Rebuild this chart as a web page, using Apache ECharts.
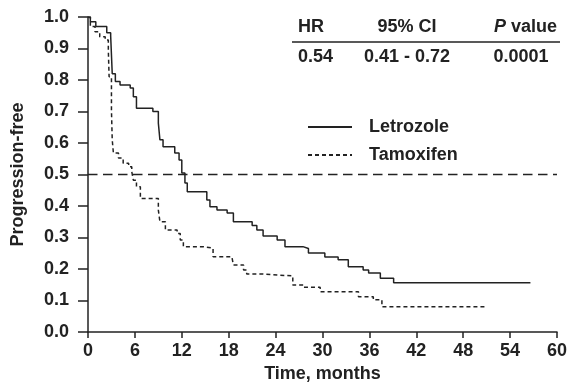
<!DOCTYPE html>
<html>
<head>
<meta charset="utf-8">
<script src="https://cdn.jsdelivr.net/npm/echarts@6/dist/echarts.min.js"></script>
<style>
html, body { margin:0; padding:0; background:#fff; }
#chart { width:573px; height:382px; }
</style>
</head>
<body>
<div id="chart"></div>
<script>
// Kaplan-Meier steps (months, proportion progression-free)
var letTime = [0, 0.3, 1.0, 2.4, 2.9, 3.1, 3.5, 4.1, 5.4, 5.8, 6.2, 8.3, 9.0, 9.2, 9.6, 11.1, 11.65, 12.0, 12.4, 12.7,
    15.2, 15.6, 16.5, 17.8, 18.6, 21.0, 21.6, 22.4, 24.2, 25.2, 27.5, 28.2, 30.3, 32.0, 33.3, 35.2, 35.9, 37.4, 39.1, 56.6];
var letSurv = [1.0, 0.985, 0.97, 0.95, 0.94, 0.82, 0.795, 0.784, 0.775, 0.747, 0.71, 0.70, 0.663, 0.61, 0.588, 0.568, 0.546, 0.505, 0.473, 0.445,
    0.419, 0.398, 0.387, 0.378, 0.35, 0.338, 0.324, 0.305, 0.292, 0.271, 0.265, 0.251, 0.238, 0.229, 0.207, 0.197, 0.187, 0.171, 0.156, 0.156];

var tamTime = [0, 0.3, 0.9, 1.5, 2.2, 2.6, 2.7, 3.0, 3.1, 3.25, 3.9, 4.5, 5.2, 5.6, 5.8, 6.2, 6.7, 9.0, 9.2, 9.9,
    11.4, 11.8, 12.2, 14.8, 16.0, 18.4, 18.6, 19.9, 20.3, 22.4, 26.2, 27.6, 29.7, 34.6, 36.5, 37.6, 51.1];
var tamSurv = [1.0, 0.97, 0.953, 0.937, 0.927, 0.895, 0.81, 0.705, 0.61, 0.568, 0.552, 0.536, 0.525, 0.509, 0.482, 0.461, 0.424, 0.387, 0.35, 0.324,
    0.313, 0.292, 0.271, 0.266, 0.239, 0.234, 0.213, 0.197, 0.184, 0.178, 0.149, 0.142, 0.128, 0.112, 0.102, 0.08, 0.08];

var seriesNames = ['Letrozole', 'Tamoxifen'];
var xTicks = [0, 60, 6];      // min, max, interval
var yTicks = [0, 1, 0.1];
var tableHead = ['HR', '95% CI', 'P value'];
var tableRow = ['0.54', '0.41 - 0.72', '0.0001'];

var ink = '#222';
var font = 'Liberation Sans, Arial, sans-serif';
var fs = 18;

function zip(t, s) {
    return t.map(function (v, i) { return [v, s[i]]; });
}

var myChart = echarts.init(document.getElementById('chart'));

var option = {
    animation: false,
    grid: { left: 88, right: 16, top: 17, bottom: 50, outerBoundsMode: 'none' },
    legend: {
        orient: 'vertical',
        left: 302,
        top: 113,
        itemWidth: 44,
        itemHeight: 16,
        itemGap: 10,
        data: seriesNames,
        itemStyle: { opacity: 0 },
        textStyle: { color: ink, fontFamily: font, fontWeight: 'bold', fontSize: fs, padding: [0, 0, 0, 12] }
    },
    xAxis: {
        type: 'value',
        min: xTicks[0], max: xTicks[1], interval: xTicks[2],
        name: 'Time, months',
        nameLocation: 'middle',
        nameGap: 30,
        nameTextStyle: { color: ink, fontFamily: font, fontWeight: 'bold', fontSize: fs },
        axisLine: { lineStyle: { color: ink, width: 1.5 } },
        axisTick: { length: 6, lineStyle: { color: ink, width: 1.5 } },
        axisLabel: { color: ink, fontFamily: font, fontWeight: 'bold', fontSize: fs, margin: 10 },
        splitLine: { show: false }
    },
    yAxis: {
        type: 'value',
        min: yTicks[0], max: yTicks[1], interval: yTicks[2],
        name: 'Progression-free',
        nameLocation: 'middle',
        nameGap: 61,
        nameTextStyle: { color: ink, fontFamily: font, fontWeight: 'bold', fontSize: fs },
        axisLine: { show: true, lineStyle: { color: ink, width: 1.5 } },
        axisTick: { show: true, length: 10, lineStyle: { color: ink, width: 1.5 } },
        axisLabel: {
            color: ink, fontFamily: font, fontWeight: 'bold', fontSize: fs, margin: 19,
            formatter: function (v) { return v.toFixed(1); }
        },
        splitLine: { show: false }
    },
    series: [
        {
            name: seriesNames[0],
            type: 'line',
            step: 'end',
            symbol: 'none',
            data: zip(letTime, letSurv),
            lineStyle: { color: ink, width: 1.5, type: 'solid' },
            itemStyle: { color: ink },
            markLine: {
                silent: true,
                symbol: 'none',
                label: { show: false },
                lineStyle: { color: ink, width: 1.3, type: [9.5, 5.5] },
                data: [{ yAxis: 0.5 }]
            }
        },
        {
            name: seriesNames[1],
            type: 'line',
            step: 'end',
            symbol: 'none',
            data: zip(tamTime, tamSurv),
            lineStyle: { color: ink, width: 1.5, type: [4, 3] },
            itemStyle: { color: ink }
        }
    ],
    graphic: [
        { type: 'text', x: 298, y: 27, style: { text: tableHead[0], font: 'bold 18px ' + font, fill: ink, verticalAlign: 'middle' } },
        { type: 'text', x: 407, y: 27, style: { text: tableHead[1], font: 'bold 18px ' + font, fill: ink, align: 'center', verticalAlign: 'middle' } },
        { type: 'text', x: 557, y: 27, style: {
            text: '{i|P} value', font: 'bold 18px ' + font, fill: ink, align: 'right', verticalAlign: 'middle',
            rich: { i: { fontStyle: 'italic', fontWeight: 'bold', fontSize: fs, fontFamily: font, fill: ink } }
        } },
        { type: 'line', shape: { x1: 292, y1: 42, x2: 560, y2: 42 }, style: { stroke: ink, lineWidth: 1.5 } },
        { type: 'text', x: 298, y: 57, style: { text: tableRow[0], font: 'bold 18px ' + font, fill: ink, verticalAlign: 'middle' } },
        { type: 'text', x: 407, y: 57, style: { text: tableRow[1], font: 'bold 18px ' + font, fill: ink, align: 'center', verticalAlign: 'middle' } },
        { type: 'text', x: 521, y: 57, style: { text: tableRow[2], font: 'bold 18px ' + font, fill: ink, align: 'center', verticalAlign: 'middle' } }
    ]
};

myChart.setOption(option);
</script>
</body>
</html>
